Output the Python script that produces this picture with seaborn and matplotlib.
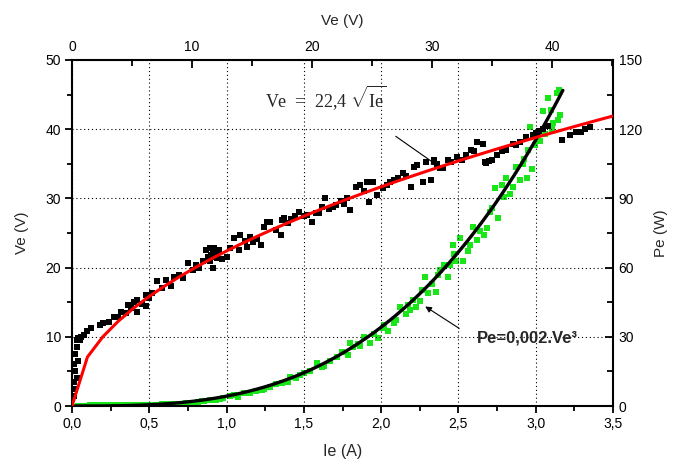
import numpy as np
import pandas as pd
import matplotlib
matplotlib.use("Agg")
import matplotlib.pyplot as plt
import seaborn as sns
from matplotlib.ticker import MultipleLocator, FuncFormatter

# measured points: Ve (V) against Ie (A)
ie_pts = [0.01, 0.01, 0.01, 0.02, 0.02, 0.02, 0.03, 0.03, 0.03, 0.04, 0.04, 0.05, 0.06,
          0.08, 0.10, 0.12, 0.18, 0.20, 0.24, 0.27, 0.30, 0.32, 0.35, 0.36, 0.38, 0.40,
          0.42, 0.42, 0.45, 0.48, 0.48, 0.50, 0.52, 0.55, 0.58, 0.61, 0.64, 0.66, 0.69,
          0.72, 0.75, 0.78, 0.80, 0.82, 0.85, 0.87, 0.88, 0.89, 0.90, 0.91, 0.92, 0.93,
          0.95, 0.97, 1.00, 1.02, 1.05, 1.08, 1.09, 1.12, 1.13, 1.17, 1.20, 1.22, 1.24,
          1.26, 1.28, 1.32, 1.35, 1.36, 1.37, 1.40, 1.44, 1.47, 1.50, 1.52, 1.55, 1.58,
          1.60, 1.64, 1.66, 1.69, 1.71, 1.74, 1.78, 1.80, 1.84, 1.86, 1.89, 1.91, 1.92,
          1.95, 1.97, 2.01, 2.04, 2.08, 2.11, 2.14, 2.19, 2.21, 2.23, 2.27, 2.29, 2.32,
          2.34, 2.38, 2.40, 2.45, 2.49, 2.52, 2.55, 2.58, 2.60, 2.62, 2.66, 2.68, 2.67,
          2.72, 2.75, 2.78, 2.81, 2.85, 2.90, 2.94, 2.98, 3.02, 3.05, 3.08, 3.17, 3.22,
          3.26, 3.29, 3.32, 3.35,
          0.89, 0.91, 0.93, 0.94, 1.15, 1.42, 1.62, 1.76, 2.06, 2.16, 2.36, 2.43, 2.70,
          2.87, 3.00]
ve_pts = [1.5, 3.5, 6.0, 2.5, 5.0, 7.5, 4.0, 8.5, 9.5, 6.5, 9.8, 9.5, 10.0,
          10.2, 10.8, 11.3, 11.7, 12.0, 12.2, 12.8, 12.9, 13.6, 13.5, 14.6, 14.2, 15.0,
          15.3, 13.6, 14.8, 16.0, 14.4, 15.6, 16.3, 18.0, 17.0, 18.2, 17.3, 18.6, 19.0,
          18.5, 20.6, 19.6, 20.4, 20.0, 21.0, 22.5, 21.5, 22.8, 21.8, 20.0, 22.9, 21.6,
          22.6, 21.2, 21.5, 22.8, 24.3, 22.6, 24.7, 23.8, 23.0, 23.7, 24.2, 23.3, 25.9,
          26.6, 26.6, 25.5, 24.7, 26.9, 27.1, 26.5, 27.4, 28.0, 27.4, 27.6, 26.6, 27.9,
          27.9, 30.0, 28.4, 28.8, 29.0, 29.6, 30.0, 28.3, 31.7, 31.9, 31.0, 32.4, 29.5,
          32.4, 30.5, 31.5, 32.0, 32.7, 32.9, 33.7, 31.7, 34.5, 34.8, 32.4, 35.3, 32.7,
          35.5, 34.4, 34.4, 35.2, 36.0, 35.5, 36.3, 37.0, 36.9, 38.2, 37.9, 35.1, 35.2,
          35.6, 36.3, 36.8, 37.0, 37.9, 38.2, 38.9, 39.2, 39.8, 40.0, 40.4, 38.4, 39.2,
          39.6, 39.6, 40.1, 40.3,
          21.0, 22.2, 22.4, 21.4, 24.4, 27.0, 28.7, 29.2, 32.3, 33.2, 35.0, 35.6, 35.4,
          37.7, 39.5]

# measured points: Pe (W) against Ve (V)
vg_pts = [0.5, 1.5, 2.5, 3.5, 4.5, 5.5, 6.5, 7.5, 8.5, 9.0, 9.5, 10.0, 10.5, 11.0, 11.5,
          12.0, 12.6, 13.2, 13.8, 14.3, 14.8, 15.3, 15.8, 16.5, 17.0, 17.5, 18.2, 18.7,
          19.3, 19.8, 20.4, 20.8, 21.5, 22.1, 22.5, 23.0, 23.2, 23.4, 24.0, 24.3, 24.8,
          25.2, 25.5, 25.9, 26.3, 26.8, 27.0, 27.3, 27.8, 28.0, 28.4, 28.7, 29.0, 29.4,
          29.7, 30.0, 30.3, 30.5, 30.7, 31.0, 31.3, 31.5, 31.75, 32.0, 32.3, 32.6, 33.0,
          33.4, 33.75, 34.0, 34.3, 34.6, 35.0, 35.25, 35.5, 35.8, 36.2, 36.5, 36.75, 37.0,
          37.3, 37.6, 37.9, 38.0, 38.3, 38.2, 38.6, 39.0, 39.25, 39.4, 39.7, 40.0, 40.1,
          40.4, 40.5, 40.7, 40.6,
          1.0, 2.0, 3.0, 4.0, 5.0, 6.0, 7.0, 8.0, 10.8, 11.8, 12.3, 13.5, 16.0, 18.0,
          19.0, 21.0, 23.8, 26.0, 28.2, 29.2, 31.8, 33.2, 34.8, 36.0, 37.7, 39.9]
pe_pts = [0.2, 0.3, 0.3, 0.4, 0.4, 0.5, 0.6, 0.7, 0.8, 1.0, 1.2, 1.5, 1.8, 2.2, 2.6,
          2.5, 3.5, 4.5, 4.0, 5.5, 5.6, 6.5, 7.0, 8.2, 9.5, 10.0, 12.6, 12.0,
          14.5, 15.0, 18.6, 17.0, 19.5, 21.3, 23.5, 22.0, 27.3, 25.6, 26.0, 30.0, 27.3,
          31.0, 29.5, 33.8, 32.5, 36.0, 37.5, 43.0, 40.0, 44.0, 46.0, 43.0, 45.5, 56.0,
          49.0, 53.0, 49.4, 57.0, 59.0, 61.0, 56.0, 61.0, 69.8, 63.0, 73.0, 63.0, 67.0,
          77.6, 72.0, 76.0, 74.0, 77.0, 86.0, 94.5, 81.5, 96.0, 99.0, 92.0, 95.0, 103.6,
          98.0, 105.0, 98.8, 111.0, 102.7, 121.0, 113.0, 115.0, 128.0, 118.0, 133.5, 120.0,
          122.6, 135.7, 124.0, 126.0, 137.0,
          0.2, 0.3, 0.3, 0.4, 0.5, 0.5, 0.6, 0.9, 2.0, 2.8, 3.2, 4.8, 7.5, 10.5,
          13.5, 17.5, 27.0, 35.0, 41.5, 50.5, 66.0, 70.0, 84.0, 90.5, 107.0, 128.5]

# fitted laws written on the chart
ve_coef = 22.4      # Ve = 22,4 sqrt(Ie)
pe_coef = 0.002     # Pe = 0,002 Ve^3
fit_ie = np.arange(0, 3.51, 0.1)
fit_ve = np.linspace(0, 40.9, 120)

vi = pd.DataFrame({"Ie": ie_pts, "Ve": ve_pts})
pv = pd.DataFrame({"Ve": vg_pts, "Pe": pe_pts})
fit_a = pd.DataFrame({"Ie": fit_ie, "Ve": ve_coef * np.sqrt(fit_ie)})
fit_b = pd.DataFrame({"Ve": fit_ve, "Pe": pe_coef * fit_ve ** 3})

sns.set_theme(style="white")
plt.rcParams["font.family"] = ["Liberation Sans", "DejaVu Sans"]
plt.rcParams["axes.edgecolor"] = "black"
plt.rcParams["axes.linewidth"] = 1.5
plt.rcParams["xtick.color"] = "black"
plt.rcParams["ytick.color"] = "black"
plt.rcParams["mathtext.fontset"] = "custom"
plt.rcParams["mathtext.rm"] = "Liberation Serif"

fig = plt.figure(figsize=(6.88, 4.66), dpi=100)
pos = [72 / 688, 1 - 406 / 466, (613 - 72) / 688, (406 - 60) / 466]
ax2 = fig.add_axes(pos, frameon=False)
ax = fig.add_axes(pos)
ax.set_zorder(ax2.get_zorder() + 1)
ax.patch.set_visible(False)

green = "#19e619"
sns.scatterplot(data=pv, x="Ve", y="Pe", ax=ax2, marker="s", s=24, color=green,
                linewidth=0, zorder=2)
sns.lineplot(data=fit_b, x="Ve", y="Pe", ax=ax2, color="black", lw=2.4, zorder=3)

sns.scatterplot(data=vi, x="Ie", y="Ve", ax=ax, marker="s", s=24, color="black",
                linewidth=0, zorder=2)
sns.lineplot(data=fit_a, x="Ie", y="Ve", ax=ax, color="red", lw=2.2, zorder=3)

# main axes: Ie bottom, Ve left
ax.set_xlim(0, 3.5)
ax.set_ylim(0, 50)
ax.xaxis.set_major_locator(MultipleLocator(0.5))
ax.xaxis.set_minor_locator(MultipleLocator(0.25))
ax.yaxis.set_major_locator(MultipleLocator(10))
ax.yaxis.set_minor_locator(MultipleLocator(5))
ax.xaxis.set_major_formatter(FuncFormatter(lambda v, p: f"{v:.1f}".replace(".", ",")))
ax.tick_params(which="both", direction="out", width=1.3, labelsize=10, pad=3,
               bottom=True, left=True, top=False, right=False)
ax.tick_params(which="major", length=5)
ax.tick_params(which="minor", length=3.5)
ax.grid(True, which="major", linestyle=(0, (1, 2.5)), color="black", lw=0.8)
ax.set_axisbelow(True)
ax.set_xlabel("Ie (A)", fontsize=11.5, labelpad=9)
ax.set_ylabel("Ve (V)", fontsize=11, labelpad=12)

# second axes: Ve top, Pe right
ax2.set_xlim(0, 45.08)
ax2.set_ylim(0, 150)
ax2.xaxis.tick_top()
ax2.yaxis.tick_right()
ax2.xaxis.set_label_position("top")
ax2.yaxis.set_label_position("right")
ax2.xaxis.set_major_locator(MultipleLocator(10))
ax2.xaxis.set_minor_locator(MultipleLocator(5))
ax2.yaxis.set_major_locator(MultipleLocator(30))
ax2.yaxis.set_minor_locator(MultipleLocator(15))
ax2.tick_params(which="both", direction="in", width=1.3, labelsize=10, pad=4,
                top=True, right=True, bottom=False, left=False)
ax2.tick_params(which="major", length=6)
ax2.tick_params(which="minor", length=4.5)
ax2.set_xlabel("Ve (V)", fontsize=11, labelpad=11)
ax2.set_ylabel("Pe (W)", fontsize=11, labelpad=9)

# annotations
ax.text(1.64, 44.6, r"Ve  =  22,4 $\sqrt{\mathrm{Ie}}$", family="Liberation Serif",
        fontsize=13, ha="center", va="center")
ax.annotate("", xy=(2.38, 34.5), xytext=(2.08, 39.2),
            arrowprops=dict(arrowstyle="-|>", color="black", lw=0.8, mutation_scale=9))
ax.text(2.62, 9.8, "Pe=0,002.Ve³", fontsize=12, fontweight="bold", ha="left", va="center")
ax.annotate("", xy=(2.27, 14.6), xytext=(2.52, 11.0),
            arrowprops=dict(arrowstyle="-|>", color="black", lw=0.8, mutation_scale=9))

fig.savefig("out.png", dpi=100)
